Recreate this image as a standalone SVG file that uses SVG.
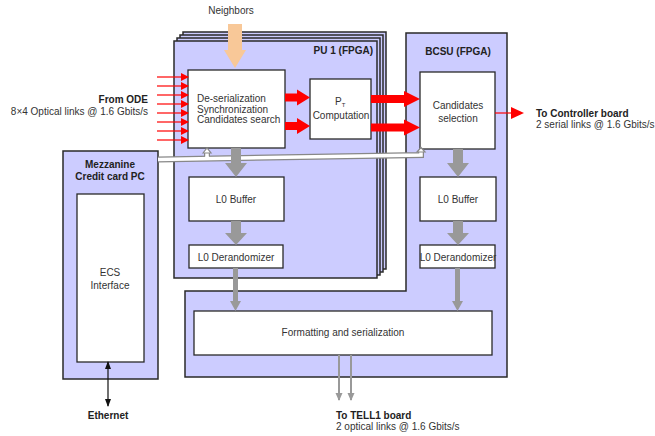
<svg xmlns="http://www.w3.org/2000/svg" width="655" height="436" viewBox="0 0 655 436">
<style>
text{font-family:"Liberation Sans",Arial,sans-serif;fill:#333;font-size:10px}
.b{font-weight:bold;fill:#222}
.m{text-anchor:middle}
.e{text-anchor:end}
.lav{fill:#CCCCFF;stroke:#2a2a2a;stroke-width:1.5}
.box{fill:#fff;stroke:#2a2a2a;stroke-width:1.3}
.red{fill:#FF0000}
.gray{fill:#999}
</style>
<defs>
<marker id="rh" markerWidth="8" markerHeight="8" refX="7" refY="4" orient="auto" markerUnits="userSpaceOnUse"><path d="M0,0 L8,4 L0,8 Z" fill="#FF0000"/></marker>
<marker id="bh" markerWidth="8" markerHeight="8" refX="7" refY="4" orient="auto-start-reverse" markerUnits="userSpaceOnUse"><path d="M0,1 L8,4 L0,7 Z" fill="#111"/></marker>
<marker id="gh" markerWidth="8" markerHeight="8" refX="7" refY="4" orient="auto" markerUnits="userSpaceOnUse"><path d="M0,0.5 L8,4 L0,7.5 Z" fill="#999"/></marker>
</defs>
<rect width="655" height="436" fill="#fff"/>

<g id="board">
<path class="lav" d="M406,33 H507 V377 H185 V291 H406 Z"/>
<text class="b m" x="458" y="55">BCSU (FPGA)</text>
</g>

<g id="pu">
<rect class="lav" x="183" y="32" width="203" height="237"/>
<rect class="lav" x="180" y="35" width="203" height="237"/>
<rect class="lav" x="177" y="38" width="203" height="237"/>
<rect class="lav" x="174" y="41" width="203" height="237"/>
<text class="b e" x="373" y="54">PU 1 (FPGA)</text>
</g>

<g id="mezzanine">
<rect class="lav" x="63" y="151" width="95" height="228"/>
<text class="b m" x="110" y="168">Mezzanine</text>
<text class="b m" x="110" y="180">Credit card PC</text>
</g>
<g id="ecs">
<rect class="box" x="77" y="194" width="67" height="168"/>
<text class="m" x="110" y="276" font-size="11.5">ECS</text>
<text class="m" x="110" y="289" font-size="11.5">Interface</text>
</g>

<g id="deser">
<rect class="box" x="188" y="70" width="97" height="78"/>
<text x="197" y="102" font-size="9.5">De-serialization</text>
<text x="197" y="112.5" font-size="9.5">Synchronization</text>
<text x="197" y="123" font-size="9.5">Candidates search</text>
</g>
<g id="pt">
<rect class="box" x="310" y="79" width="61" height="60"/>
<text x="335" y="105" font-size="10">P<tspan font-size="6" dy="2">T</tspan></text>
<text class="m" x="341" y="119" font-size="9.5">Computation</text>
</g>
<g id="cand">
<rect class="box" x="420" y="72" width="75" height="77"/>
<text class="m" x="458" y="109" font-size="10.5">Candidates</text>
<text class="m" x="458" y="122" font-size="10.5">selection</text>
</g>
<g id="l0buf1">
<rect class="box" x="189" y="177" width="95" height="44"/>
<text class="m" x="236" y="203">L0 Buffer</text>
</g>
<g id="l0der1">
<rect class="box" x="189" y="245" width="94" height="23"/>
<text class="m" x="236" y="261">L0 Derandomizer</text>
</g>
<g id="l0buf2">
<rect class="box" x="420" y="177" width="76" height="44"/>
<text class="m" x="458" y="203">L0 Buffer</text>
</g>
<g id="l0der2">
<rect class="box" x="420" y="245" width="75" height="23"/>
<text class="m" x="458" y="261">L0 Derandomizer</text>
</g>
<g id="fmt">
<rect class="box" x="194" y="311" width="298" height="44"/>
<text class="m" x="343" y="336" font-size="11.5">Formatting and serialization</text>
</g>

<g id="connectors">
<polygon fill="#F8C898" points="228,24 242,24 242,50 246,50 235,68 224,50 228,50"/>
<g stroke="#FF0000" stroke-width="1.2" marker-end="url(#rh)">
<line x1="157" y1="77" x2="188" y2="77"/>
<line x1="157" y1="86" x2="188" y2="86"/>
<line x1="157" y1="95" x2="188" y2="95"/>
<line x1="157" y1="104" x2="188" y2="104"/>
<line x1="157" y1="113" x2="188" y2="113"/>
<line x1="157" y1="122" x2="188" y2="122"/>
<line x1="157" y1="131" x2="188" y2="131"/>
<line x1="157" y1="140" x2="188" y2="140"/>
</g>
<polygon class="red" points="285,93.5 297,93.5 297,89.5 310,97.5 297,105.5 297,101.5 285,101.5"/>
<polygon class="red" points="285,122 297,122 297,118 310,126 297,134 297,130 285,130"/>
<polygon class="red" points="371,95 404,95 404,91 420,99 404,107 404,103 371,103"/>
<polygon class="red" points="371,123.5 404,123.5 404,119.5 420,127.5 404,135.5 404,131.5 371,131.5"/>
<line x1="495" y1="113" x2="512" y2="113" stroke="#FF0000" stroke-width="1.2"/>
<polygon class="red" points="511,107 524,113 511,119"/>
<path d="M158,159.5 L421,155 V150 M207,158.6 V151" fill="none" stroke="#888" stroke-width="6"/>
<path d="M158,159.5 L421,155 V150 M207,158.6 V151" fill="none" stroke="#fff" stroke-width="3.5"/>
<polygon points="203,153 207,148 211,153" fill="#fff" stroke="#888" stroke-width="1.2"/>
<polygon points="417,152 421,147.5 425,152" fill="#fff" stroke="#888" stroke-width="1.2"/>
<polygon class="gray" points="231,148 241,148 241,163 247,163 236,177 225,163 231,163"/>
<polygon class="gray" points="231,221 241,221 241,233 247,233 236,245 225,233 231,233"/>
<polygon class="gray" points="233,268 238,268 238,301 241,301 235.5,311 230,301 233,301"/>
<polygon class="gray" points="453,149 463,149 463,163 469,163 458,177 447,163 453,163"/>
<polygon class="gray" points="453,221 463,221 463,233 469,233 458,245 447,233 453,233"/>
<polygon class="gray" points="455,268 460,268 460,301 463,301 457.5,311 452,301 455,301"/>
<line x1="339" y1="355" x2="339" y2="400" stroke="#999" stroke-width="2" marker-end="url(#gh)"/>
<line x1="351" y1="355" x2="351" y2="400" stroke="#999" stroke-width="2" marker-end="url(#gh)"/>
<line x1="108" y1="362" x2="108" y2="406" stroke="#111" stroke-width="1.2" marker-start="url(#bh)" marker-end="url(#bh)"/>
</g>

<g id="labels">
<text class="m" x="231" y="14">Neighbors</text>
<text class="b e" x="148" y="103">From ODE</text>
<text class="e" x="148" y="115">8×4 Optical links @ 1.6 Gbits/s</text>
<text class="b" x="536" y="117">To Controller board</text>
<text x="536" y="128">2 serial links @ 1.6 Gbits/s</text>
<text class="b" x="336" y="419">To TELL1 board</text>
<text x="336" y="430">2 optical links @ 1.6 Gbits/s</text>
<text class="b m" x="108" y="419">Ethernet</text>
</g>
</svg>
